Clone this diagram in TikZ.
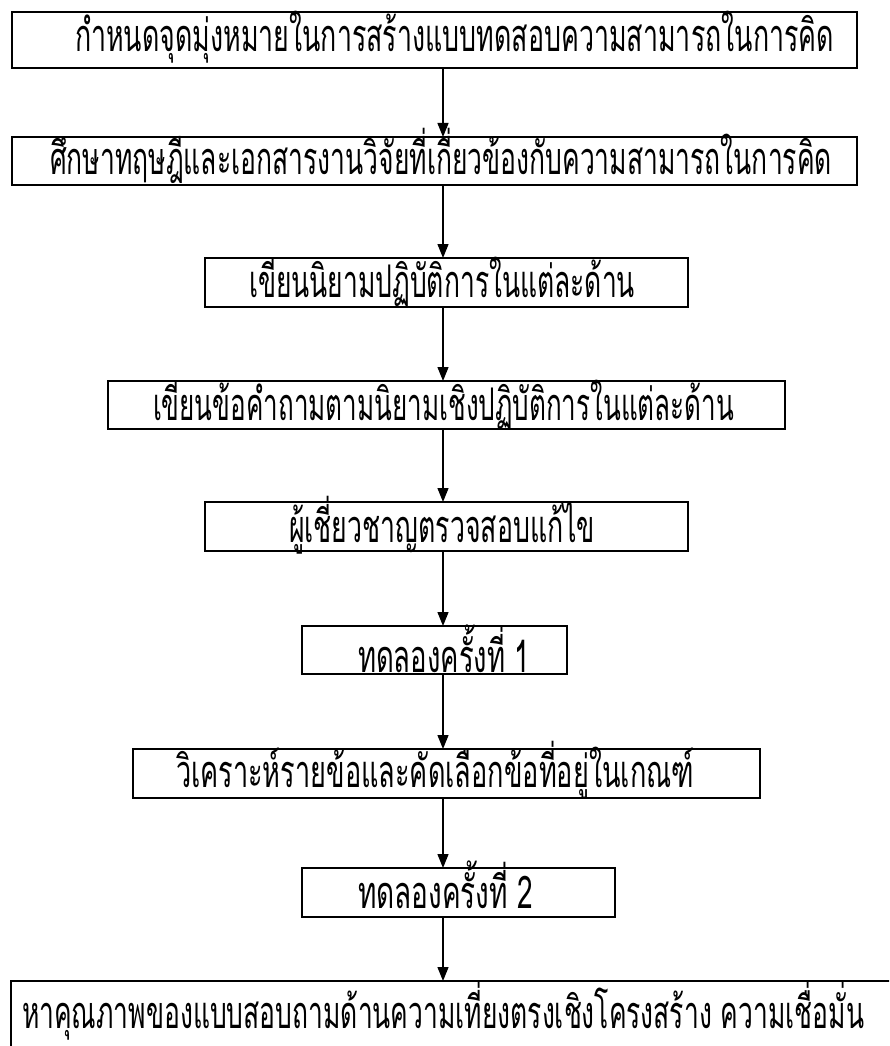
\documentclass[tikz,border=0pt]{standalone}
\usepackage{fontspec}
\newfontfamily\thaifont[Script=Thai]{Loma}
\usetikzlibrary{arrows.meta}
\tikzset{
  flowbox/.style={draw=black, line width=1.5pt, inner sep=0pt, outer sep=0pt, anchor=north west,
    font=\thaifont\fontsize{45}{50}\selectfont},
  flowarrow/.style={line width=1.3pt, -{Triangle[length=14pt,width=11pt]}}
}
% #1 box width, #2 text offset from left edge, #3 text width, #4 text
\newcommand{\boxtext}[4]{\makebox[#1pt][l]{\hspace*{#2pt}\resizebox{#3pt}{\height}{#4}}}
\begin{document}
\begin{tikzpicture}[x=1pt,y=-1pt]
\useasboundingbox (0,0) rectangle (889,1046);
\clip (0,0) rectangle (889,1046);
\coordinate (ax) at (443,0);
\node[flowbox, text height=40pt, text depth=16pt] (b1) at (12,12)
  {\boxtext{845}{63}{759}{กำหนดจุดมุ่งหมายในการสร้างแบบทดสอบความสามารถในการคิด}};
\node[flowbox, text height=38pt, text depth=10pt] (b2) at (12,137)
  {\boxtext{845}{38}{782}{ศึกษาทฤษฎีและเอกสารงานวิจัยที่เกี่ยวข้องกับความสามารถในการคิด}};
\node[flowbox, text height=39pt, text depth=10pt] (b3) at (205,258)
  {\boxtext{483}{44}{386}{เขียนนิยามปฏิบัติการในแต่ละด้าน}};
\node[flowbox, text height=39pt, text depth=9pt] (b4) at (108,381)
  {\boxtext{677}{45}{581}{เขียนข้อคำถามตามนิยามเชิงปฏิบัติการในแต่ละด้าน}};
\node[flowbox, text height=40pt, text depth=9pt] (b5) at (205,502)
  {\boxtext{483}{84}{306}{ผู้เชี่ยวชาญตรวจสอบแก้ไข}};
\node[flowbox, text height=46pt, text depth=2pt] (b6) at (302,626)
  {\boxtext{265}{56}{172}{ทดลองครั้งที่ 1}};
\node[flowbox, text height=38pt, text depth=11pt] (b7) at (133,749)
  {\boxtext{627}{43}{518}{วิเคราะห์รายข้อและคัดเลือกข้อที่อยู่ในเกณฑ์}};
\node[flowbox, text height=40pt, text depth=9pt] (b8) at (302,868)
  {\boxtext{313}{56}{175}{ทดลองครั้งที่ 2}};
\node[flowbox, text height=47pt, text depth=40pt] (b9) at (11,981)
  {\boxtext{900}{11}{842}{หาคุณภาพของแบบสอบถามด้านความเที่ยงตรงเชิงโครงสร้าง ความเชื่อมั่น}};
\foreach \a/\b in {b1/b2,b2/b3,b3/b4,b4/b5,b5/b6,b6/b7,b7/b8,b8/b9}
  \draw[flowarrow] (\a.south -| ax) -- (\b.north -| ax);
\end{tikzpicture}
\end{document}
